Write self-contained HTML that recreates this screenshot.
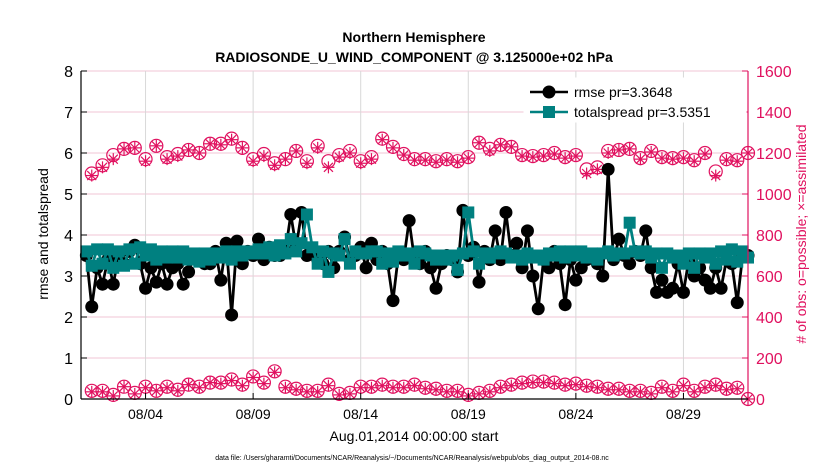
<!DOCTYPE html>
<html><head><meta charset="utf-8"><style>
body{margin:0;background:#fff;}
svg{display:block;font-family:"Liberation Sans",sans-serif;}
</style></head><body>
<svg id="c" width="830" height="470" viewBox="0 0 830 470">
<text x="414" y="42" text-anchor="middle" font-size="14" font-weight="bold">Northern Hemisphere</text>
<text x="414" y="62" text-anchor="middle" font-size="14" font-weight="bold">RADIOSONDE_U_WIND_COMPONENT @ 3.125000e+02 hPa</text>
<g id="grid"></g>
<g id="marks"></g>
<g id="axes"></g>
<text transform="translate(48,234) rotate(-90)" text-anchor="middle" font-size="14">rmse and totalspread</text>
<text transform="translate(806,234) rotate(-90)" text-anchor="middle" font-size="14" fill="#e0115f"># of obs: o=possible; ×=assimilated</text>
<text x="414" y="441" text-anchor="middle" font-size="14">Aug.01,2014 00:00:00 start</text>
<text x="412" y="460" text-anchor="middle" font-size="7">data file: /Users/gharamti/Documents/NCAR/Reanalysis/~/Documents/NCAR/Reanalysis/webpub/obs_diag_output_2014-08.nc</text>
<g>
<rect x="524" y="78" width="222" height="44" fill="#fff" stroke="#fff"/>
<line x1="530" y1="92" x2="568" y2="92" stroke="#000" stroke-width="2.5"/>
<circle cx="549" cy="92" r="6.5" fill="#000"/>
<text x="574" y="97" font-size="14">rmse pr=3.3648</text>
<line x1="530" y1="112" x2="568" y2="112" stroke="#008080" stroke-width="2.5"/>
<rect x="543" y="106" width="12" height="12" fill="#008080"/>
<text x="574" y="117" font-size="14">totalspread pr=3.5351</text>
</g>
</svg>
<script>
const rmse=[3.5,2.25,3.2,2.8, 3.4,2.8,3.5,3.3, 3.6,3.75,3.3,2.7, 3.2,2.85,3.3,2.8, 3.2,3.3,2.8,3.1, 3.5,3.4,3.3,3.3, 3.6,2.9,3.8,2.05, 3.85,3.3,3.6,3.5, 3.9,3.4,3.7,3.5, 3.5,3.6,4.5,3.7, 4.55,3.5,3.6,3.4, 3.3,3.6,3.2,3.6, 3.95,3.4,3.5,3.7, 3.2,3.8,3.4,3.6, 3.3,2.4,3.5,3.4, 4.35,3.4,3.3,3.6, 3.2,2.7,3.3,3.5, 3.4,3.1,4.6,3.5, 3.7,2.85,3.6,3.4, 4.1,3.4,4.55,3.5, 3.8,3.2,4.1,3.0, 2.2,3.4,3.2,3.6, 3.3,2.3,3.4,2.9, 3.2,3.4,3.5,3.3, 3.0,5.6,3.4,3.9, 3.5,3.3,3.6,3.5, 4.1,3.2,2.6,2.9, 2.6,2.7,3.3,2.6, 3.4,3.0,3.2,2.9, 2.7,3.2,2.7,3.4, 3.3,2.35,3.5,3.5];
const spread=[3.6,3.25,3.65,3.3, 3.65,3.2,3.6,3.25, 3.65,3.3,3.7,3.5, 3.65,3.4,3.6,3.45, 3.6,3.45,3.6,3.4, 3.55,3.35,3.55,3.4, 3.55,3.45,3.6,3.4, 3.6,3.5,3.6,3.55, 3.65,3.55,3.7,3.5, 3.75,3.55,3.9,3.6, 3.8,4.5,3.7,3.3, 3.6,3.1,3.55,3.5, 3.9,3.3,3.6,3.55, 3.55,3.6,3.6,3.3, 3.55,3.35,3.6,3.5, 3.55,3.3,3.6,3.55, 3.5,3.4,3.5,3.4, 3.5,3.15,3.55,4.55, 3.6,3.3,3.55,3.45, 3.55,3.6,3.55,3.45, 3.5,3.4,3.55,3.45, 3.5,3.4,3.55,3.5, 3.6,3.45,3.6,3.5, 3.6,3.45,3.55,3.4, 3.55,3.6,3.5,3.55, 3.55,4.3,3.6,3.55, 3.6,3.45,3.55,3.2, 3.55,3.45,3.5,3.3, 3.55,3.2,3.55,3.45, 3.55,3.3,3.6,3.4, 3.65,3.35,3.6,3.45];
const possibleHi=[1100,1140,1190,1220,1225,1170,1235,1180,1195,1215,1200,1245,1245,1270,1225,1170,1195,1150,1170,1210,1160,1235,1160,1190,1210,1160,1180,1270,1230,1195,1170,1170,1160,1170,1160,1180,1250,1220,1240,1230,1190,1185,1190,1200,1180,1190,1120,1130,1210,1215,1220,1175,1210,1180,1175,1180,1165,1200,1110,1170,1165,1200];
const assimHi=[1090,1130,1170,1220,1225,1160,1235,1170,1185,1215,1200,1245,1240,1265,1225,1160,1185,1140,1170,1210,1150,1225,1130,1180,1200,1150,1170,1265,1225,1190,1165,1165,1155,1165,1155,1175,1250,1210,1240,1230,1185,1180,1185,1195,1175,1185,1100,1120,1200,1215,1220,1170,1205,1175,1170,1175,1160,1195,1090,1165,1160,1200];
const possibleLo=[40,40,20,60,30,60,40,60,45,70,60,80,80,95,70,110,80,135,60,50,40,40,70,25,30,60,60,70,60,60,70,55,50,40,40,20,30,40,60,70,80,85,85,80,70,75,65,60,50,50,40,40,30,60,40,70,40,60,70,50,55,0];
const assimLo=[35,35,15,60,25,55,40,55,40,70,55,80,75,90,65,105,75,130,55,45,35,35,65,20,25,55,55,65,55,55,65,50,45,35,35,15,25,35,55,65,75,80,80,75,65,70,60,55,45,45,35,35,25,55,35,65,35,55,65,45,50,0];
const yTicks=[0,1,2,3,4,5,6,7,8];
const y2Ticks=[0,200,400,600,800,1000,1200,1400,1600];
const xTickDays=[3,8,13,18,23,28];
const xTickLabels=["08/04","08/09","08/14","08/19","08/24","08/29"];

const L=81,R=748,T=71,B=399,DAYS=31;
const NS="http://www.w3.org/2000/svg";
const xs=d=>L+(R-L)*d/DAYS;
const ys=v=>B-(B-T)*v/8;
const ys2=v=>B-(B-T)*v/1600;
function mk(tag,attrs,parent){const e=document.createElementNS(NS,tag);for(const k in attrs)e.setAttribute(k,attrs[k]);parent.appendChild(e);return e;}
const grid=document.getElementById('grid'),marks=document.getElementById('marks'),axes=document.getElementById('axes');
const PINK="#e0115f";
yTicks.forEach((v,i)=>{
 const l=mk('line',{x1:L,x2:R,y1:ys(v),y2:ys(v),stroke:'#f2c4d6','stroke-width':1},grid);
 
 
 const tk=mk('line',{x1:L,x2:L+6,y1:ys(v),y2:ys(v),stroke:'#000'},axes);
 
 
 const t=mk('text',{x:L-8,y:ys(v)+6,'text-anchor':'end','font-size':16},axes);
 t.textContent=v;
 
 
});
y2Ticks.forEach(v=>{
 const tk=mk('line',{x1:R-6,x2:R,y1:ys2(v),y2:ys2(v),stroke:PINK},axes);
 
 
 const t=mk('text',{x:R+8,y:ys2(v)+6,'font-size':16,fill:PINK},axes);
 t.textContent=v;
 
 
});
xTickDays.forEach((d,i)=>{
 const l=mk('line',{x1:xs(d),x2:xs(d),y1:T,y2:B,stroke:'#d8d8d8'},grid);
 
 
 const tk=mk('line',{x1:xs(d),x2:xs(d),y1:B-6,y2:B,stroke:'#000'},axes);
 
 
 const t=mk('text',{x:xs(d),y:B+20,'text-anchor':'middle','font-size':14},axes);
 t.textContent=xTickLabels[i];
 
 
});
const ax1=mk('line',{x1:L,x2:L,y1:T,y2:B,stroke:'#000','stroke-width':1.2},axes);


const ax2=mk('line',{x1:R,x2:R,y1:T,y2:B,stroke:PINK,'stroke-width':1.2},axes);


const ax3=mk('line',{x1:L,x2:R,y1:B,y2:B,stroke:'#000','stroke-width':1.2},axes);



function obsSeries(poss,assim,name){
 poss.forEach((v,i)=>{
  const d=0.5*i+0.5,cx=xs(d),cy=ys2(v);
  const c=mk('circle',{cx:cx,cy:cy,r:6.5,fill:'none',stroke:PINK,'stroke-width':1.2},marks);
  
  
  const ay=ys2(assim[i]);
  const g=mk('g',{stroke:PINK,'stroke-width':1.2},marks);
  
  
  mk('line',{x1:cx-6,x2:cx+6,y1:ay,y2:ay},g);
  mk('line',{x1:cx,x2:cx,y1:ay-6,y2:ay+6},g);
  mk('line',{x1:cx-4.5,x2:cx+4.5,y1:ay-4.5,y2:ay+4.5},g);
  mk('line',{x1:cx-4.5,x2:cx+4.5,y1:ay+4.5,y2:ay-4.5},g);
 });
}
obsSeries(possibleHi,assimHi,'obs-count-upper');
obsSeries(possibleLo,assimLo,'obs-count-lower');

function line(vals,color,name){
 const pts=vals.map((v,i)=>xs(0.25*i+0.25)+','+ys(v)).join(' ');
 const p=mk('polyline',{points:pts,fill:'none',stroke:color,'stroke-width':2.8},marks);
 
 
}
line(rmse,'#000','rmse');
rmse.forEach((v,i)=>{
 const c=mk('circle',{cx:xs(0.25*i+0.25),cy:ys(v),r:6.5,fill:'#000'},marks);
 
 
});
line(spread,'#008080','totalspread');
spread.forEach((v,i)=>{
 const r=mk('rect',{x:xs(0.25*i+0.25)-6,y:ys(v)-6,width:12,height:12,fill:'#008080'},marks);
 
 
});
</script>
</body></html>
